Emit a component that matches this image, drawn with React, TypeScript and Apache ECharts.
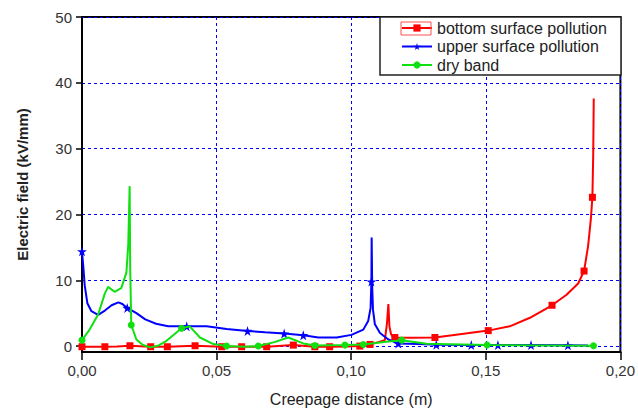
import React, { useEffect, useRef } from "react";
import * as echarts from "echarts";

// [x (m), E (kV/mm), marker shown (1/0)]
const bottomSurface: number[][] = [
  [0, -0.1, 1], [0.0085, -0.1, 1], [0.013, -0.05, 0], [0.0178, 0.05, 1],
  [0.0255, -0.1, 1], [0.0317, -0.1, 1], [0.042, 0.05, 1], [0.0519, -0.1, 1],
  [0.0593, -0.1, 1], [0.0686, -0.1, 1], [0.0785, 0.15, 1], [0.0865, -0.1, 1],
  [0.092, -0.1, 1], [0.0985, -0.05, 0], [0.1032, 0.0, 1], [0.107, 0.25, 1],
  [0.11, 0.6, 0], [0.1125, 0.9, 0], [0.1133, 3.5, 0], [0.1138, 6.4, 0],
  [0.1142, 3.0, 0], [0.1148, 1.8, 0], [0.1156, 1.35, 0], [0.1162, 1.3, 1],
  [0.122, 1.25, 0], [0.1311, 1.3, 1], [0.1404, 1.8, 0], [0.1509, 2.35, 1],
  [0.1589, 3.0, 0], [0.1664, 4.3, 0], [0.1746, 6.2, 1], [0.18, 7.8, 0],
  [0.1843, 9.5, 0], [0.1865, 11.4, 1], [0.188, 15.2, 0], [0.189, 19.2, 0],
  [0.1896, 22.6, 1], [0.1899, 29.1, 0], [0.1901, 37.6, 0],
];

const upperSurface: number[][] = [
  [0, 14.4, 1], [0.0005, 12.0, 0], [0.001, 9.25, 0], [0.002, 6.5, 0],
  [0.0035, 5.3, 0], [0.006, 4.75, 0], [0.0085, 5.4, 0], [0.011, 6.2, 0],
  [0.0135, 6.65, 0], [0.015, 6.4, 0], [0.0168, 5.8, 1], [0.0202, 5.0, 0],
  [0.0235, 4.05, 0], [0.0275, 3.4, 0], [0.032, 3.0, 0], [0.0389, 3.0, 1],
  [0.0463, 3.0, 0], [0.0537, 2.6, 0], [0.0615, 2.3, 1], [0.068, 2.1, 0],
  [0.0751, 1.9, 1], [0.0822, 1.65, 1], [0.0878, 1.3, 0], [0.0946, 1.3, 0],
  [0.1001, 1.7, 0], [0.1045, 2.5, 0], [0.1063, 3.8, 0], [0.1072, 5.8, 0],
  [0.1075, 9.8, 1], [0.1076, 16.5, 0], [0.1078, 9.0, 0], [0.1081, 5.5, 0],
  [0.1088, 3.3, 0], [0.1107, 2.0, 0], [0.1138, 1.0, 0], [0.1169, 0.5, 0],
  [0.1175, 0.4, 1], [0.125, 0.3, 0], [0.1316, 0.2, 1], [0.1446, 0.15, 1],
  [0.1545, 0.15, 1], [0.1668, 0.15, 1], [0.1805, 0.12, 1], [0.188, 0.1, 0],
];

const dryBand: number[][] = [
  [0, 0.9, 1], [0.0025, 2.3, 0], [0.006, 4.8, 0], [0.0085, 8.0, 0],
  [0.0097, 9.0, 0], [0.0121, 8.25, 0], [0.0146, 8.8, 0], [0.0165, 11.2, 0],
  [0.0172, 15.5, 0], [0.0177, 24.3, 0], [0.0179, 12.0, 0], [0.0183, 3.2, 1],
  [0.0202, 1.0, 0], [0.0225, 0.2, 0], [0.0253, -0.2, 0], [0.0285, 0.1, 0],
  [0.0314, 0.8, 0], [0.037, 2.7, 1], [0.04, 3.0, 0], [0.0438, 1.3, 0],
  [0.0488, 0.3, 0], [0.0537, 0.0, 1], [0.06, -0.1, 0], [0.0655, 0.0, 1],
  [0.0715, 0.6, 0], [0.0766, 1.3, 0], [0.0822, 0.4, 0], [0.0865, 0.1, 1],
  [0.0977, 0.15, 1], [0.1045, 0.25, 1], [0.113, 0.65, 0], [0.1188, 0.9, 1],
  [0.128, 0.35, 0], [0.1505, 0.15, 1], [0.17, 0.1, 0], [0.19, 0.05, 1],
];

const yTicks = [0, 10, 20, 30, 40, 50];
const seriesNames = ["bottom surface pollution", "upper surface pollution", "dry band"];
const seriesColors = ["#ff0000", "#0000ff", "#10e010"];

const STAR = "path://M50,0 L61,35 L98,35 L68,57 L79,91 L50,70 L21,91 L32,57 L2,35 L39,35 Z";
const FONT = "'Liberation Sans', Arial, sans-serif";

function toData(rows: number[][]) {
  return rows.map(([x, y, m]) => (m ? [x, y] : { value: [x, y], symbol: "none" }));
}

export default function App() {
  const ref = useRef<HTMLDivElement>(null);
  useEffect(() => {
    if (!ref.current) return;
    const chart = echarts.init(ref.current, null, { renderer: "svg" });
    const sets = [bottomSurface, upperSurface, dryBand];
    const symbols = ["rect", STAR, "circle"];
    const sizes = [7, 10, 7];
    chart.setOption({
      animation: false,
      grid: {
        left: 82, top: 17, right: 17, bottom: 54,
        show: true, borderColor: "#000", borderWidth: 2,
      },
      legend: {
        orient: "vertical",
        left: 401,
        top: 20,
        itemWidth: 30,
        itemHeight: 9,
        itemGap: 2.5,
        padding: 0,
        z: 20,
        textStyle: { fontFamily: FONT, fontSize: 16, color: "#222" },
        data: seriesNames,
      },
      xAxis: {
        type: "value",
        min: 0,
        max: 0.2,
        interval: 0.05,
        name: "Creepage distance (m)",
        nameLocation: "middle",
        nameGap: 39,
        nameTextStyle: { fontFamily: FONT, fontSize: 16, color: "#222" },
        axisLine: { show: true, onZero: false, lineStyle: { color: "#000", width: 2 } },
        axisTick: { show: true, length: 8, lineStyle: { color: "#000", width: 1.5 } },
        axisLabel: {
          fontFamily: FONT, fontSize: 15, color: "#333", margin: 11,
          formatter: (v: number) => v.toFixed(2).replace(".", ","),
        },
        splitLine: { show: true, lineStyle: { color: "#0000ff", type: [3, 3], width: 1 } },
      },
      yAxis: {
        type: "value",
        min: -0.9,
        max: 50,
        name: "Electric field (kV/mm)",
        nameLocation: "middle",
        nameGap: 52,
        nameTextStyle: { fontFamily: FONT, fontSize: 15, fontWeight: "bold", color: "#222" },
        axisLine: { show: true, lineStyle: { color: "#000", width: 2 } },
        axisTick: { show: true, length: 6, customValues: yTicks, lineStyle: { color: "#000", width: 1.5 } },
        axisLabel: { fontFamily: FONT, fontSize: 15, color: "#333", margin: 10, customValues: yTicks },
        splitLine: { show: true, lineStyle: { color: "#0000ff", type: [3, 3], width: 1 } },
      },
      graphic: [
        {
          type: "rect",
          z: 10,
          shape: { x: 380, y: 17, width: 241, height: 58 },
          style: { fill: "#fff", stroke: "#222", lineWidth: 1.5 },
        },
        {
          type: "rect",
          z: 30,
          shape: { x: 401, y: 22, width: 30, height: 13 },
          style: { fill: "none", stroke: "#ff5050", lineWidth: 1 },
        },
      ],
      series: sets.map((rows, i) => ({
        name: seriesNames[i],
        type: "line",
        data: toData(rows),
        symbol: symbols[i],
        symbolSize: sizes[i],
        showSymbol: true,
        lineStyle: { color: seriesColors[i], width: 2 },
        itemStyle: { color: seriesColors[i] },
        z: 2 + i,
      })),
    });
    return () => chart.dispose();
  }, []);
  return <div ref={ref} style={{ position: "absolute", left: 0, top: 0, width: 638, height: 412 }} />;
}
